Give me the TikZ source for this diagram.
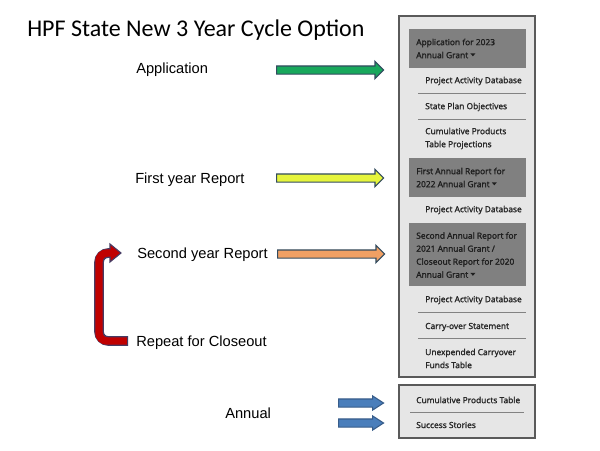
\documentclass[tikz,border=0pt]{standalone}
\usepackage{fontspec}
\setmainfont{Liberation Sans}
\newfontfamily\titlefont{Carlito}
\newfontfamily\panelfont{Open Sans}[FakeBold=1.8]
\usepackage{tikz}
\usetikzlibrary{shapes.arrows}
\definecolor{panelbg}{RGB}{230,230,230}
\definecolor{panelline}{RGB}{90,90,90}
\definecolor{headbg}{RGB}{128,128,128}
\definecolor{sepline}{RGB}{130,130,130}
\definecolor{itemtext}{RGB}{40,40,40}
\definecolor{slate}{RGB}{50,75,95}
\definecolor{appgreen}{RGB}{24,168,92}
\definecolor{firstyellow}{RGB}{230,245,60}
\definecolor{secondorange}{RGB}{240,160,100}
\definecolor{annualblue}{RGB}{74,126,187}
\definecolor{annualedge}{RGB}{56,93,138}
\definecolor{loopred}{RGB}{192,0,0}
\definecolor{loopedge}{RGB}{70,60,100}
\newcommand{\ddcaret}{\tikz[baseline=0pt]\fill (0pt,3.6pt) -- (3.8pt,3.6pt) -- (1.9pt,1.4pt) -- cycle;}
\tikzset{
	panel/.style={fill=panelbg,draw=panelline,line width=0.9pt},
	header/.style={fill=headbg,draw=none},
	sep/.style={draw=sepline,line width=0.6pt},
	item/.style={anchor=west,inner sep=0pt,align=left,text=itemtext,font=\panelfont\fontsize{6.3}{9.75}\selectfont},
	label/.style={anchor=base west,inner sep=0pt,font=\fontsize{11}{13}\selectfont},
	blockarrow/.style={single arrow,draw=slate,line width=0.9pt,anchor=tail,inner xsep=0pt,inner ysep=2.625pt,
		minimum height=80.25pt,single arrow head extend=3.375pt,single arrow tip angle=90},
	smallarrow/.style={single arrow,fill=annualblue,draw=annualedge,line width=0.8pt,anchor=tail,inner xsep=0pt,inner ysep=2.625pt,
		minimum height=33.75pt,single arrow head extend=2.25pt,single arrow tip angle=66}
}
\begin{document}
\begin{tikzpicture}[x=0.75pt,y=-0.75pt]
	\useasboundingbox[fill=white] (0,0) rectangle (600,450);
	%title
	\node[anchor=base west,inner sep=0pt,font=\titlefont\fontsize{18}{22}\selectfont] (title) at (27,36) {HPF State New 3 Year Cycle Option};
	
	%left labels
	\node[label] (appLabel) at (136,73) {Application};
	\node[label] (firstLabel) at (135,183) {First year Report};
	\node[label] (secondLabel) at (137,258) {Second year Report};
	\node[label] (repeatLabel) at (136,346) {Repeat for Closeout};
	\node[label] (annualLabel) at (225,418) {Annual};
	
	%block arrows
	\node[blockarrow,fill=appgreen] (appArrow) at (276,70) {};
	\node[blockarrow,fill=firstyellow] (firstArrow) at (276,178) {};
	\node[blockarrow,fill=secondorange] (secondArrow) at (277,254) {};
	\node[smallarrow] (annualArrow1) at (338,403) {};
	\node[smallarrow] (annualArrow2) at (338,423) {};
	
	%repeat loop
	\coordinate (loopStart) at (128,341);
	\coordinate (loopTop) at (111,253);
	\coordinate (loopTip) at (121,253);
	\draw[loopedge,line width=7.2pt,rounded corners=7pt] (loopStart) -| (99,253) -- (loopTop);
	\filldraw[fill=loopred,draw=loopedge,line width=0.8pt] (110,244) -- (loopTip) -- (110,262) -- cycle;
	\draw[loopred,line width=5.6pt,rounded corners=6pt] ([xshift=-0.8pt]loopStart) -| (99,253) -- (112,253);
	
	%main panel
	\draw[panel] (399,16) rectangle (535,377);
	\fill[header] (409,29) rectangle (526,68);
	\fill[header] (409,158) rectangle (526,197);
	\fill[header] (409,223) rectangle (526,286);
	\draw[sep] (418,93) -- (526,93);
	\draw[sep] (418,119) -- (526,119);
	\draw[sep] (418,312) -- (526,312);
	\draw[sep] (418,338) -- (526,338);
	
	\node[item,text=black!88] (H1) at (416,48.5) {Application for 2023\\Annual Grant \ddcaret};
	\node[item] (I1) at (425,81) {Project Activity Database};
	\node[item] (I2) at (425,107) {State Plan Objectives};
	\node[item] (I3) at (425,138.5) {Cumulative Products\\Table Projections};
	\node[item,text=black!88] (H2) at (416,177.5) {First Annual Report for\\2022 Annual Grant \ddcaret};
	\node[item] (I4) at (425,210) {Project Activity Database};
	\node[item,text=black!88] (H3) at (416,255) {Second Annual Report for\\2021 Annual Grant /\\Closeout Report for 2020\\Annual Grant \ddcaret};
	\node[item] (I5) at (425,300) {Project Activity Database};
	\node[item] (I6) at (425,327) {Carry-over Statement};
	\node[item] (I7) at (425,358.5) {Unexpended Carryover\\Funds Table};
	
	%annual panel
	\draw[panel] (399,385) rectangle (535,438);
	\draw[sep] (410,412) -- (524,412);
	\node[item] (A1) at (416,400) {Cumulative Products Table};
	\node[item] (A2) at (416,425) {Success Stories};
\end{tikzpicture}
\end{document}
